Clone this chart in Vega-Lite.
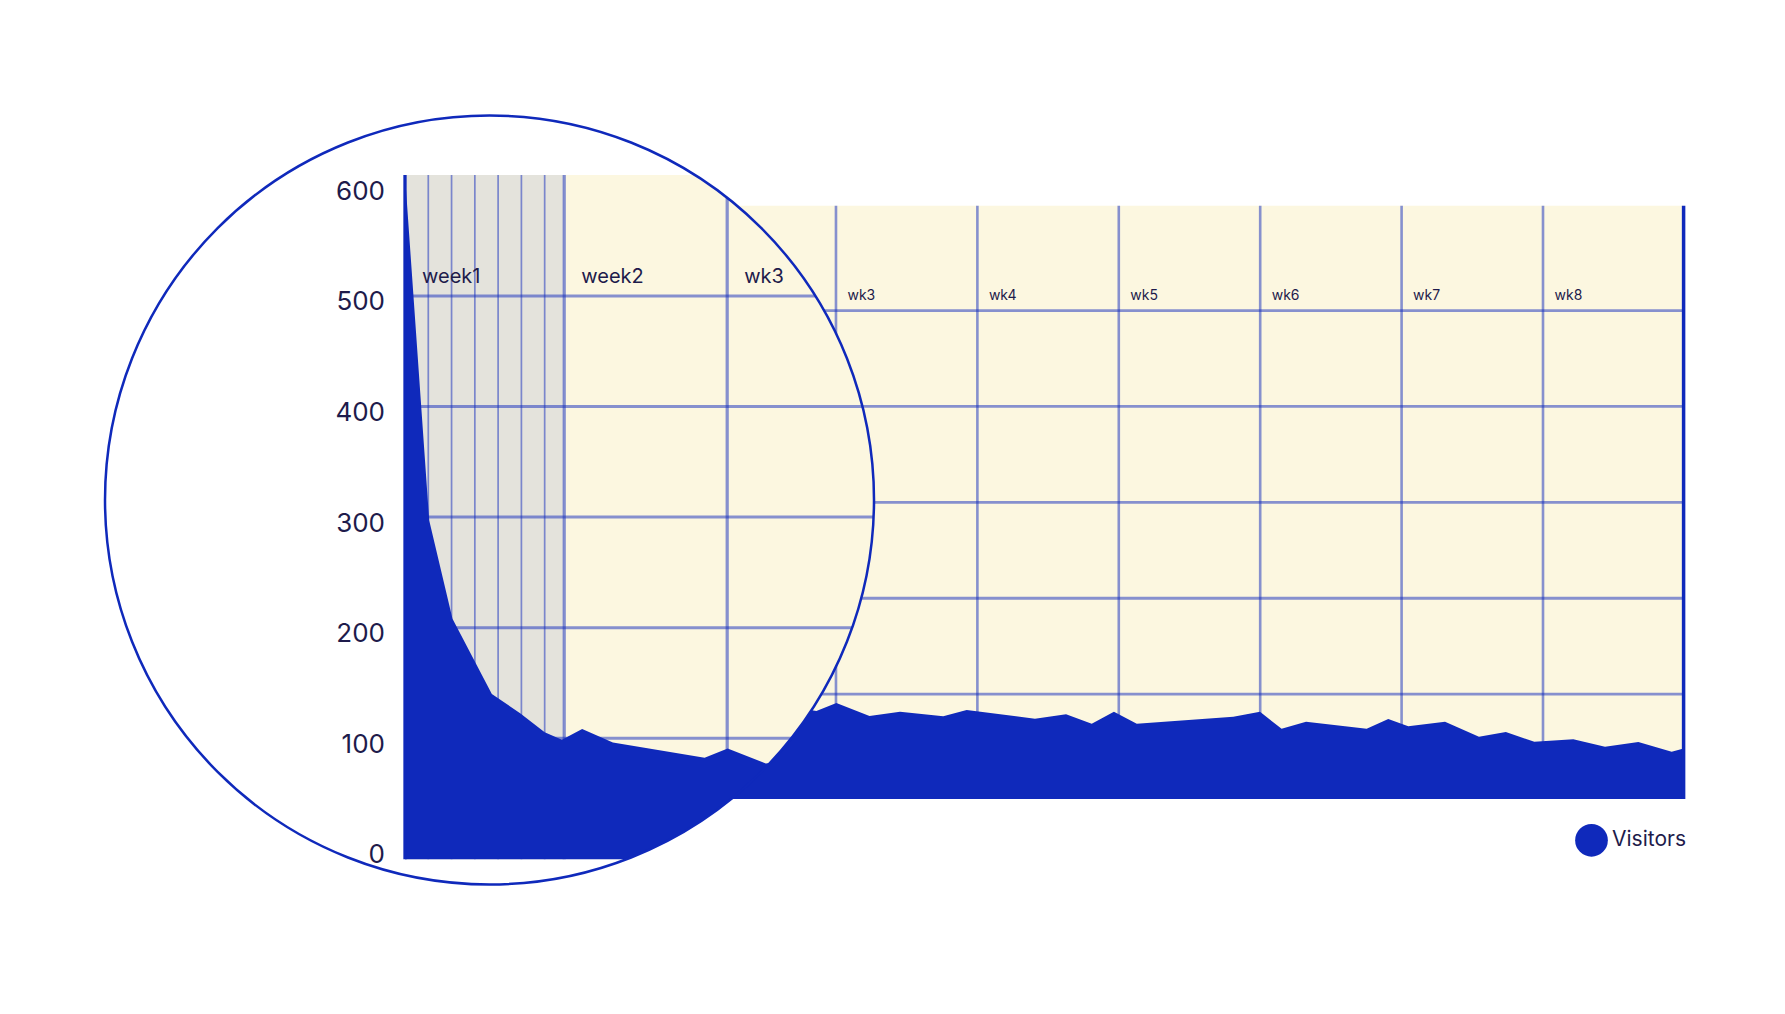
{
  "$schema": "https://vega.github.io/schema/vega-lite/v6.json",
  "width": 1127.2,
  "height": 593.2,
  "autosize": {"type": "none"},
  "padding": {"left": 556.4, "top": 205.8, "right": 101.4, "bottom": 215},
  "background": "white",
  "config": {
    "font": "Inter",
    "view": {"fill": "#fcf7e0", "stroke": null}
  },
  "datasets": {
    "visits": [
      {"day": 0, "visitors": 609},
      {"day": 1.04, "visitors": 297},
      {"day": 2.04, "visitors": 208},
      {"day": 3.73, "visitors": 140},
      {"day": 4.96, "visitors": 122.5},
      {"day": 6.0, "visitors": 105.5},
      {"day": 6.74, "visitors": 98.7},
      {"day": 7.61, "visitors": 108.4},
      {"day": 8.93, "visitors": 96.3},
      {"day": 12.87, "visitors": 82.4},
      {"day": 13.86, "visitors": 90.7},
      {"day": 15.5, "visitors": 77.2},
      {"day": 17.01, "visitors": 81.6},
      {"day": 19.15, "visitors": 76.8},
      {"day": 20.31, "visitors": 83.4},
      {"day": 23.69, "visitors": 74.3},
      {"day": 25.23, "visitors": 78.9},
      {"day": 26.5, "visitors": 69.1},
      {"day": 27.6, "visitors": 81.6},
      {"day": 28.73, "visitors": 69.1},
      {"day": 33.51, "visitors": 76.4},
      {"day": 34.83, "visitors": 81.6},
      {"day": 35.9, "visitors": 63.8},
      {"day": 37.11, "visitors": 71.2},
      {"day": 40.11, "visitors": 63.8},
      {"day": 41.18, "visitors": 74.0},
      {"day": 42.17, "visitors": 66.4},
      {"day": 43.99, "visitors": 71.2},
      {"day": 45.67, "visitors": 55.5},
      {"day": 47.0, "visitors": 60.4},
      {"day": 48.41, "visitors": 50.3},
      {"day": 50.34, "visitors": 52.8},
      {"day": 51.91, "visitors": 45.1},
      {"day": 53.56, "visitors": 50.0},
      {"day": 55.21, "visitors": 39.9},
      {"day": 55.8, "visitors": 43.4}
    ],
    "grid": [{"v": 100}, {"v": 200}, {"v": 300}, {"v": 400}, {"v": 500}],
    "ticks": [{"v": 0}, {"v": 100}, {"v": 200}, {"v": 300}, {"v": 400}, {"v": 500}, {"v": 600}],
    "days": [{"day": 1}, {"day": 2}, {"day": 3}, {"day": 4}, {"day": 5}, {"day": 6}],
    "weeks": [
      {"week": 1, "start": 0, "end": 6.84, "label": "wk1", "zoomLabel": "week1"},
      {"week": 2, "start": 6.84, "end": 13.84, "label": "wk2", "zoomLabel": "week2"},
      {"week": 3, "start": 13.84, "end": 20.84, "label": "wk3", "zoomLabel": "wk3"},
      {"week": 4, "start": 20.84, "end": 27.84, "label": "wk4", "zoomLabel": "wk4"},
      {"week": 5, "start": 27.84, "end": 34.84, "label": "wk5", "zoomLabel": "wk5"},
      {"week": 6, "start": 34.84, "end": 41.84, "label": "wk6", "zoomLabel": "wk6"},
      {"week": 7, "start": 41.84, "end": 48.84, "label": "wk7", "zoomLabel": "wk7"},
      {"week": 8, "start": 48.84, "end": 55.84, "label": "wk8", "zoomLabel": "wk8"}
    ]
  },
  "layer": [
    {
      "layer": [
        {
          "data": {"name": "weeks"},
          "transform": [{"filter": "datum.week == 1"}],
          "mark": {"type": "rect", "color": "#e4e3dc"},
          "encoding": {
            "x": {"field": "start", "type": "quantitative", "scale": {"domain": [0, 55.8], "nice": false, "zero": false}, "axis": null},
            "x2": {"field": "end"}
          }
        },
        {
          "data": {"name": "grid"},
          "mark": {"type": "rule", "color": "#0f29bb", "opacity": 0.5, "strokeWidth": 2.8},
          "encoding": {
            "y": {"field": "v", "type": "quantitative", "scale": {"domain": [-9.4, 609.3], "nice": false, "zero": false}, "axis": null}
          }
        },
        {
          "data": {"name": "weeks"},
          "transform": [{"filter": "datum.week > 1"}],
          "mark": {"type": "rule", "color": "#0f29bb", "opacity": 0.5, "strokeWidth": 2.6},
          "encoding": {
            "x": {"field": "start", "type": "quantitative", "scale": {"domain": [0, 55.8], "nice": false, "zero": false}, "axis": null}
          }
        },
        {
          "data": {"name": "visits"},
          "mark": {"type": "area", "opacity": 1},
          "encoding": {
            "x": {"field": "day", "type": "quantitative", "scale": {"domain": [0, 55.8], "nice": false, "zero": false}, "axis": null},
            "y": {"field": "visitors", "type": "quantitative", "scale": {"domain": [-9.4, 609.3], "nice": false, "zero": false}, "axis": null},
            "y2": {"datum": -9.4},
            "color": {
              "datum": "Visitors",
              "type": "nominal",
              "scale": {"range": ["#0f29bb"]},
              "legend": {
                "orient": "none",
                "legendX": 1018.6,
                "legendY": 618,
                "title": null,
                "padding": 0,
                "symbolType": "circle",
                "symbolSize": 1069,
                "symbolStrokeWidth": 0,
                "symbolOpacity": 1,
                "labelFontSize": 21,
                "labelFont": "Inter",
                "labelColor": "#1e1b4b",
                "labelOffset": 4
              }
            }
          }
        },
        {
          "data": {"name": "visits"},
          "mark": {"type": "rule", "color": "#0f29bb", "strokeWidth": 3.5},
          "encoding": {
            "x": {"aggregate": "max", "field": "day", "type": "quantitative", "scale": {"domain": [0, 55.8], "nice": false, "zero": false}, "axis": null}
          }
        },
        {
          "data": {"name": "weeks"},
          "mark": {"type": "text", "align": "left", "baseline": "alphabetic", "dx": 11.5, "dy": -11, "fontSize": 14, "color": "#1e1b4b"},
          "encoding": {
            "x": {"field": "start", "type": "quantitative", "scale": {"domain": [0, 55.8], "nice": false, "zero": false}, "axis": null},
            "y": {"datum": 500, "type": "quantitative", "scale": {"domain": [-9.4, 609.3], "nice": false, "zero": false}, "axis": null},
            "text": {"field": "label"}
          }
        }
      ]
    },
    {
      "layer": [
        {
          "data": {"values": [{"panel": "zoom"}]},
          "mark": {"type": "rect", "color": "#fcf7e0", "clip": {"path": "M-451.4,294.2A384.5,384.5,0,1,1,317.6,294.2A384.5,384.5,0,1,1,-451.4,294.2Z"}},
          "encoding": {
            "x": {"datum": 0, "type": "quantitative", "scale": {"domain": [0, 55.8], "range": [-151.4, 1147.6], "nice": false, "zero": false}, "axis": null},
            "x2": {"datum": 55.8},
            "y": {"datum": -9.4, "type": "quantitative", "scale": {"domain": [-9.4, 609.3], "range": [653.5, -30.8], "nice": false, "zero": false}, "axis": null},
            "y2": {"datum": 609.3}
          }
        },
        {
          "data": {"name": "weeks"},
          "transform": [{"filter": "datum.week == 1"}],
          "mark": {"type": "rect", "color": "#e4e3dc", "clip": {"path": "M-451.4,294.2A384.5,384.5,0,1,1,317.6,294.2A384.5,384.5,0,1,1,-451.4,294.2Z"}},
          "encoding": {
            "x": {"field": "start", "type": "quantitative", "scale": {"domain": [0, 55.8], "range": [-151.4, 1147.6], "nice": false, "zero": false}, "axis": null},
            "x2": {"field": "end"},
            "y": {"datum": -9.4, "type": "quantitative", "scale": {"domain": [-9.4, 609.3], "range": [653.5, -30.8], "nice": false, "zero": false}, "axis": null},
            "y2": {"datum": 609.3}
          }
        },
        {
          "data": {"name": "days"},
          "mark": {"type": "rule", "color": "#0f29bb", "opacity": 0.5, "strokeWidth": 1.7, "clip": {"path": "M-451.4,294.2A384.5,384.5,0,1,1,317.6,294.2A384.5,384.5,0,1,1,-451.4,294.2Z"}},
          "encoding": {
            "x": {"field": "day", "type": "quantitative", "scale": {"domain": [0, 55.8], "range": [-151.4, 1147.6], "nice": false, "zero": false}, "axis": null},
            "y": {"datum": -9.4, "type": "quantitative", "scale": {"domain": [-9.4, 609.3], "range": [653.5, -30.8], "nice": false, "zero": false}, "axis": null},
            "y2": {"datum": 609.3}
          }
        },
        {
          "data": {"name": "grid"},
          "mark": {"type": "rule", "color": "#0f29bb", "opacity": 0.5, "strokeWidth": 3, "clip": {"path": "M-451.4,294.2A384.5,384.5,0,1,1,317.6,294.2A384.5,384.5,0,1,1,-451.4,294.2Z"}},
          "encoding": {
            "x": {"datum": 0, "type": "quantitative", "scale": {"domain": [0, 55.8], "range": [-151.4, 1147.6], "nice": false, "zero": false}, "axis": null},
            "x2": {"datum": 55.8},
            "y": {"field": "v", "type": "quantitative", "scale": {"domain": [-9.4, 609.3], "range": [653.5, -30.8], "nice": false, "zero": false}, "axis": null}
          }
        },
        {
          "data": {"name": "weeks"},
          "transform": [{"filter": "datum.week > 1"}],
          "mark": {"type": "rule", "color": "#0f29bb", "opacity": 0.5, "strokeWidth": 3.2, "clip": {"path": "M-451.4,294.2A384.5,384.5,0,1,1,317.6,294.2A384.5,384.5,0,1,1,-451.4,294.2Z"}},
          "encoding": {
            "x": {"field": "start", "type": "quantitative", "scale": {"domain": [0, 55.8], "range": [-151.4, 1147.6], "nice": false, "zero": false}, "axis": null},
            "y": {"datum": -9.4, "type": "quantitative", "scale": {"domain": [-9.4, 609.3], "range": [653.5, -30.8], "nice": false, "zero": false}, "axis": null},
            "y2": {"datum": 609.3}
          }
        },
        {
          "data": {"name": "visits"},
          "mark": {"type": "area", "color": "#0f29bb", "opacity": 1, "clip": {"path": "M-451.4,294.2A384.5,384.5,0,1,1,317.6,294.2A384.5,384.5,0,1,1,-451.4,294.2Z"}},
          "encoding": {
            "x": {"field": "day", "type": "quantitative", "scale": {"domain": [0, 55.8], "range": [-151.4, 1147.6], "nice": false, "zero": false}, "axis": null},
            "y": {"field": "visitors", "type": "quantitative", "scale": {"domain": [-9.4, 609.3], "range": [653.5, -30.8], "nice": false, "zero": false}, "axis": null},
            "y2": {"datum": -9.4}
          }
        },
        {
          "data": {"name": "visits"},
          "mark": {"type": "rule", "color": "#0f29bb", "strokeWidth": 3.3, "clip": {"path": "M-451.4,294.2A384.5,384.5,0,1,1,317.6,294.2A384.5,384.5,0,1,1,-451.4,294.2Z"}},
          "encoding": {
            "x": {"aggregate": "min", "field": "day", "type": "quantitative", "scale": {"domain": [0, 55.8], "range": [-151.4, 1147.6], "nice": false, "zero": false}, "axis": null},
            "y": {"datum": -9.4, "type": "quantitative", "scale": {"domain": [-9.4, 609.3], "range": [653.5, -30.8], "nice": false, "zero": false}, "axis": null},
            "y2": {"datum": 609.3}
          }
        },
        {
          "data": {"name": "weeks"},
          "mark": {"type": "text", "align": "left", "baseline": "alphabetic", "dx": 17, "dy": -13, "fontSize": 20, "color": "#1e1b4b", "clip": {"path": "M-451.4,294.2A384.5,384.5,0,1,1,317.6,294.2A384.5,384.5,0,1,1,-451.4,294.2Z"}},
          "encoding": {
            "x": {"field": "start", "type": "quantitative", "scale": {"domain": [0, 55.8], "range": [-151.4, 1147.6], "nice": false, "zero": false}, "axis": null},
            "y": {"datum": 500, "type": "quantitative", "scale": {"domain": [-9.4, 609.3], "range": [653.5, -30.8], "nice": false, "zero": false}, "axis": null},
            "text": {"field": "zoomLabel"}
          }
        },
        {
          "data": {"name": "ticks"},
          "mark": {"type": "text", "align": "right", "baseline": "middle", "dx": -20, "dy": 6.5, "fontSize": 26, "color": "#1e1b4b"},
          "encoding": {
            "x": {"datum": 0, "type": "quantitative", "scale": {"domain": [0, 55.8], "range": [-151.4, 1147.6], "nice": false, "zero": false}, "axis": null},
            "y": {"field": "v", "type": "quantitative", "scale": {"domain": [-9.4, 609.3], "range": [653.5, -30.8], "nice": false, "zero": false}, "axis": null},
            "text": {"field": "v"}
          }
        },
        {
          "data": {"values": [{"lens": "zoom"}]},
          "mark": {"type": "point", "shape": "circle", "filled": false, "size": 591361, "stroke": "#0f29bb", "strokeWidth": 2.5, "opacity": 1},
          "encoding": {
            "x": {"datum": 3.63, "type": "quantitative", "scale": {"domain": [0, 55.8], "range": [-151.4, 1147.6], "nice": false, "zero": false}, "axis": null},
            "y": {"datum": 315.45, "type": "quantitative", "scale": {"domain": [-9.4, 609.3], "range": [653.5, -30.8], "nice": false, "zero": false}, "axis": null}
          }
        }
      ]
    }
  ],
  "resolve": {"scale": {"x": "independent", "y": "independent"}}
}
